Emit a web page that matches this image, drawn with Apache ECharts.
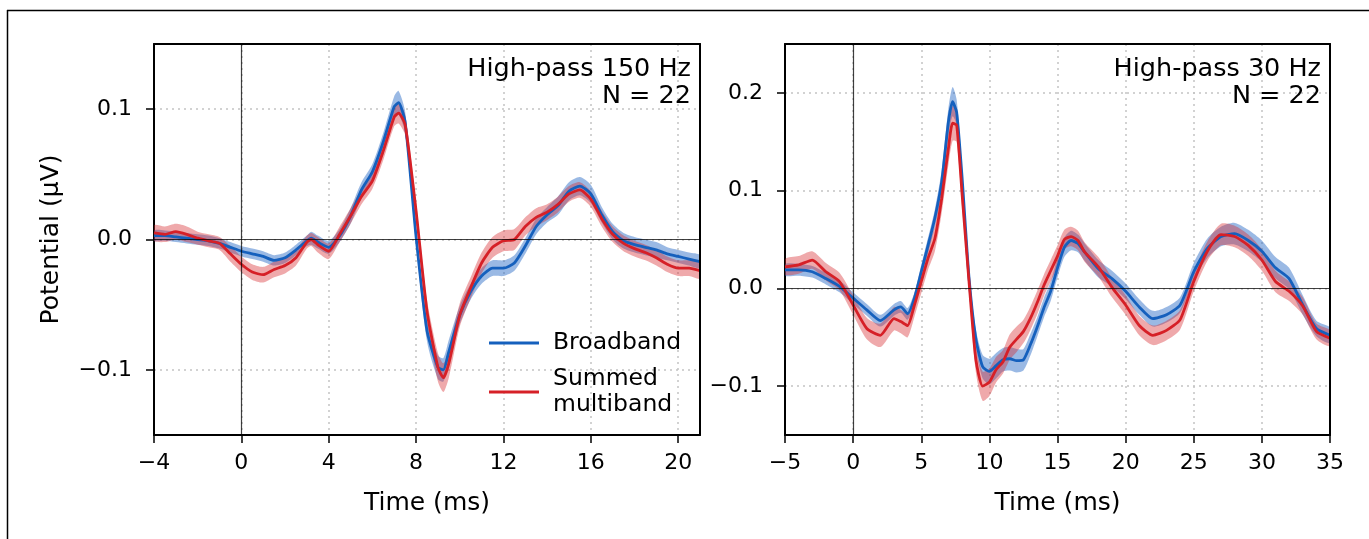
<!DOCTYPE html>
<html>
<head>
<meta charset="utf-8">
<script src="https://cdn.jsdelivr.net/npm/echarts@6/dist/echarts.min.js"></script>
<style>
html,body{margin:0;padding:0;background:#fff;}
#c{width:1369px;height:539px;}
</style>
</head>
<body>
<div id="c"></div>
<script>
// ---------- Left panel: High-pass 150 Hz ----------
var leftTime = [-4,-3.5,-3,-2.5,-2,-1.5,-1,-0.5,0,0.5,1,1.5,2,2.5,3,3.2,3.5,4,4.5,5,5.5,6,6.5,7,7.2,7.5,8,8.5,9,9.25,9.5,10,10.5,11,11.5,12,12.5,13,13.5,14,14.5,15,15.5,16,16.5,17,17.5,18,18.5,19,19.5,20,20.5,21];
var leftBroad = [0.003,0.003,0.002,0.001,0.000,-0.001,-0.003,-0.006,-0.009,-0.011,-0.013,-0.016,-0.014,-0.008,-0.001,
  0.001,-0.002,-0.006,0.003,0.018,0.038,0.052,0.075,0.102,0.105,0.090,0.002,-0.070,-0.098,-0.100,
  -0.086,-0.058,-0.040,-0.028,-0.022,-0.022,-0.018,-0.005,0.010,0.019,0.026,0.037,0.041,0.035,0.019,0.006,-0.001,-0.004,-0.006,-0.008,-0.011,-0.013,-0.015,-0.017];
var leftBroadErr = [0.004,0.004,0.004,0.004,0.004,0.004,0.004,0.004,0.004,0.004,0.004,0.004,0.004,0.004,0.004,
  0.005,0.005,0.005,0.005,0.006,0.006,0.006,0.007,0.008,0.009,0.008,0.006,0.008,0.009,0.009,
  0.009,0.007,0.006,0.006,0.006,0.006,0.006,0.006,0.006,0.006,0.007,0.007,0.007,0.007,0.006,0.006,0.006,0.006,0.006,0.006,0.005,0.005,0.005,0.005];
var leftSummed = [0.005,0.004,0.006,0.004,0.001,-0.001,-0.003,-0.011,-0.019,-0.025,-0.027,-0.023,-0.020,-0.014,-0.002,
  0.000,-0.004,-0.009,0.004,0.018,0.033,0.045,0.068,0.094,0.097,0.088,0.022,-0.055,-0.098,-0.106,
  -0.095,-0.058,-0.037,-0.018,-0.006,-0.001,0.000,0.010,0.017,0.021,0.027,0.035,0.038,0.031,0.016,0.004,-0.003,-0.007,-0.010,-0.014,-0.019,-0.022,-0.022,-0.024];
var leftSummedErr = [0.006,0.006,0.006,0.006,0.005,0.005,0.005,0.006,0.006,0.006,0.006,0.006,0.006,0.006,0.005,
  0.005,0.006,0.006,0.006,0.006,0.006,0.006,0.007,0.007,0.008,0.008,0.007,0.009,0.011,0.011,
  0.011,0.009,0.008,0.008,0.008,0.008,0.008,0.007,0.007,0.006,0.006,0.006,0.006,0.006,0.006,0.006,0.006,0.006,0.006,0.006,0.006,0.006,0.006,0.006];

// ---------- Right panel: High-pass 30 Hz ----------
var rightTime = [-5,-4,-3,-2,-1,0,1,2,3,3.5,4,4.5,5,5.5,6,6.5,7,7.3,7.6,8,8.5,9,9.5,10,10.5,11,11.5,12,12.5,13,13.5,14,14.5,15,15.5,16,16.5,17,18,19,20,21,22,23,24,25,26,27,28,29,30,31,32,33,34,35];
var rightBroad = [0.019,0.019,0.017,0.010,0.002,-0.010,-0.022,-0.033,-0.022,
  -0.019,-0.026,-0.010,0.017,0.044,0.072,0.109,0.171,
  0.191,0.180,
  0.113,0.012,-0.051,-0.080,-0.085,-0.079,-0.073,-0.072,-0.074,-0.073,-0.058,-0.040,-0.020,-0.003,0.021,0.042,0.049,0.046,0.037,
  0.020,0.010,-0.003,-0.019,-0.031,-0.027,-0.017,0.017,0.041,0.053,0.056,0.049,0.038,0.021,0.010,-0.017,-0.041,-0.048];
var rightBroadErr = [0.006,0.006,0.006,0.006,0.006,0.006,0.006,0.006,0.006,
  0.006,0.006,0.006,0.007,0.008,0.009,0.012,0.014,
  0.015,0.013,
  0.010,0.008,0.010,0.012,0.013,0.013,0.012,0.012,0.012,0.011,0.011,0.010,0.010,0.010,0.010,0.010,0.010,0.009,0.009,
  0.009,0.008,0.008,0.008,0.008,0.008,0.008,0.009,0.010,0.010,0.011,0.011,0.011,0.011,0.011,0.010,0.008,0.008];
var rightSummed = [0.022,0.024,0.029,0.017,0.007,-0.017,-0.041,-0.048,-0.031,
  -0.034,-0.038,-0.017,0.007,0.031,0.051,0.092,0.144,
  0.169,0.167,
  0.096,0.008,-0.072,-0.100,-0.096,-0.083,-0.075,-0.060,-0.052,-0.044,-0.031,-0.015,0.003,0.018,0.033,0.050,0.053,0.049,0.037,
  0.022,0.001,-0.017,-0.038,-0.048,-0.043,-0.032,0.007,0.038,0.055,0.053,0.044,0.029,0.007,-0.003,-0.018,-0.044,-0.051];
var rightSummedErr = [0.008,0.009,0.009,0.009,0.009,0.010,0.011,0.012,0.012,
  0.012,0.012,0.012,0.012,0.012,0.013,0.015,0.017,
  0.018,0.017,
  0.013,0.010,0.013,0.015,0.014,0.013,0.012,0.013,0.013,0.012,0.012,0.012,0.011,0.011,0.011,0.010,0.010,0.010,0.010,
  0.010,0.010,0.010,0.010,0.010,0.010,0.010,0.010,0.010,0.011,0.011,0.011,0.011,0.011,0.010,0.009,0.008,0.008];

// ---------- Tick labels ----------
var leftXTicks = [-4,0,4,8,12,16,20];
var leftYTicks = [-0.1,0,0.1];
var rightXTicks = [-5,0,5,10,15,20,25,30,35];
var rightYTicks = [-0.1,0,0.1,0.2];
var seriesNames = ['Broadband','Summed\nmultiband'];
var panelLabels = ['High-pass 150 Hz\nN = 22','High-pass 30 Hz\nN = 22'];

// ---------- Styling ----------
var FONT = 'DejaVu Sans';
var BLUE = '#1560bd', RED = '#d62027';
var BLUE_BAND = 'rgba(30,100,195,0.45)', RED_BAND = 'rgba(214,40,45,0.40)';
var SMOOTH = 0.2;
var TICK_FS = 22, LABEL_FS = 25;

function minusFmt(dec){
  return function(v){
    var s = dec ? Math.abs(v).toFixed(dec) : String(Math.abs(v));
    return (v < 0 ? '\u2212' : '') + s;
  };
}
function xAxisOf(idx, min, max, ticks){
  return {
    type:'value', gridIndex: idx, min: min, max: max,
    name: 'Time (ms)', nameLocation:'middle', nameGap: 56,
    nameTextStyle:{fontFamily:FONT, fontSize:LABEL_FS, color:'#000'},
    axisLine:{show:true, onZero:false, lineStyle:{color:'#000', width:2}},
    axisTick:{show:true, inside:false, length:8, customValues: ticks, lineStyle:{color:'#000', width:1.5}},
    axisLabel:{customValues: ticks, formatter: minusFmt(0), margin:17, fontFamily:FONT, fontSize:TICK_FS, color:'#000'},
    splitLine:{show:true, lineStyle:{color:'#c4c4c4', width:1.5, type:[2,4]}}
  };
}
function yAxisOf(idx, min, max, ticks, withName){
  return {
    type:'value', gridIndex: idx, min: min, max: max,
    name: withName ? 'Potential (\u03bcV)' : '', nameLocation:'middle', nameGap: 90,
    nameTextStyle:{fontFamily:FONT, fontSize:LABEL_FS, color:'#000'},
    axisLine:{show:true, onZero:false, lineStyle:{color:'#000', width:2}},
    axisTick:{show:true, inside:false, length:8, customValues: ticks, lineStyle:{color:'#000', width:1.5}},
    axisLabel:{customValues: ticks, formatter: minusFmt(1), margin:22, fontFamily:FONT, fontSize:TICK_FS, color:'#000'},
    splitLine:{show:true, lineStyle:{color:'#c4c4c4', width:1.5, type:[2,4]}}
  };
}
// spine-only axes for the top and right edges of each panel
function spineAxis(idx, min, max, pos){
  return {
    type:'value', gridIndex: idx, min: min, max: max, position: pos, z: 5,
    axisLine:{show:true, onZero:false, lineStyle:{color:'#000', width:2}},
    axisTick:{show:false}, axisLabel:{show:false}, splitLine:{show:false}
  };
}
// confidence band: one polygon built from the data through the axes' scales
function band(idx, t, mean, err, color){
  var data = t.map(function(x,i){ return [x, mean[i]-err[i], mean[i]+err[i]]; });
  return {
    type:'custom', xAxisIndex:idx, yAxisIndex:idx, silent:true, z:2, clip:true,
    data: data, encode:{x:0, y:[1,2]},
    renderItem: function(params, api){
      if (params.dataIndex !== 0) return null;
      var up = [], lo = [];
      for (var i = 0; i < data.length; i++) {
        up.push(api.coord([data[i][0], data[i][2]]));
        lo.push(api.coord([data[i][0], data[i][1]]));
      }
      return {type:'polygon', shape:{points: up.concat(lo.reverse()), smooth:0.25},
              style:{fill:color, stroke:null}};
    }
  };
}
function meanLine(name, idx, t, mean, color, zeroLines){
  var s = {type:'line', name:name, xAxisIndex:idx, yAxisIndex:idx,
    data: t.map(function(x,i){return [x, mean[i]];}),
    symbol:'none', showSymbol:false, smooth:SMOOTH, lineStyle:{color:color, width:2.8}, itemStyle:{color:color}, z:4};
  if (zeroLines) {
    s.markLine = {silent:true, symbol:'none', animation:false, label:{show:false},
      lineStyle:{color:'rgba(0,0,0,0.75)', width:1.2, type:'solid'},
      emphasis:{disabled:true},
      data:[{yAxis:0},{xAxis:0}]};
  }
  return s;
}

var series = [
  band(0, leftTime, leftBroad, leftBroadErr, BLUE_BAND),
  band(0, leftTime, leftSummed, leftSummedErr, RED_BAND),
  meanLine(seriesNames[0], 0, leftTime, leftBroad, BLUE, true),
  meanLine(seriesNames[1], 0, leftTime, leftSummed, RED, false),
  band(1, rightTime, rightBroad, rightBroadErr, BLUE_BAND),
  band(1, rightTime, rightSummed, rightSummedErr, RED_BAND),
  meanLine(seriesNames[0], 1, rightTime, rightBroad, BLUE, true),
  meanLine(seriesNames[1], 1, rightTime, rightSummed, RED, false)
];

var chart = echarts.init(document.getElementById('c'), null, {renderer:'canvas'});
chart.setOption({
  animation:false,
  backgroundColor:'#fff',
  textStyle:{fontFamily:FONT},
  grid:[
    {left:154, top:44, width:546, height:391, show:false},
    {left:785, top:44, width:545, height:391, show:false}
  ],
  xAxis:[ xAxisOf(0,-4,21,leftXTicks), xAxisOf(1,-5,35,rightXTicks),
          spineAxis(0,-4,21,'top'), spineAxis(1,-5,35,'top') ],
  yAxis:[ yAxisOf(0,-0.15,0.15,leftYTicks,true), yAxisOf(1,-0.15,0.25,rightYTicks,false),
          spineAxis(0,-0.15,0.15,'right'), spineAxis(1,-0.15,0.25,'right') ],
  legend:{
    data: seriesNames, left:484, top:325, orient:'vertical', icon:'rect',
    itemWidth:50, itemHeight:3, itemGap:10, selectedMode:false,
    textStyle:{fontFamily:FONT, fontSize:23.5, color:'#000', lineHeight:26, padding:[0,0,0,9]}
  },
  graphic:[
    {type:'line', silent:true, shape:{x1:7, y1:10.5, x2:1369, y2:10.5}, style:{stroke:'#000', lineWidth:1.5}},
    {type:'line', silent:true, shape:{x1:7.5, y1:10, x2:7.5, y2:539}, style:{stroke:'#000', lineWidth:1.5}},
    {type:'text', silent:true, x:691, y:56, z:10, style:{text:panelLabels[0], align:'right', verticalAlign:'top', font:'25.5px "DejaVu Sans"', lineHeight:27, fill:'#000'}},
    {type:'text', silent:true, x:1321, y:56, z:10, style:{text:panelLabels[1], align:'right', verticalAlign:'top', font:'25.5px "DejaVu Sans"', lineHeight:27, fill:'#000'}}
  ],
  series: series
});
</script>
</body>
</html>
